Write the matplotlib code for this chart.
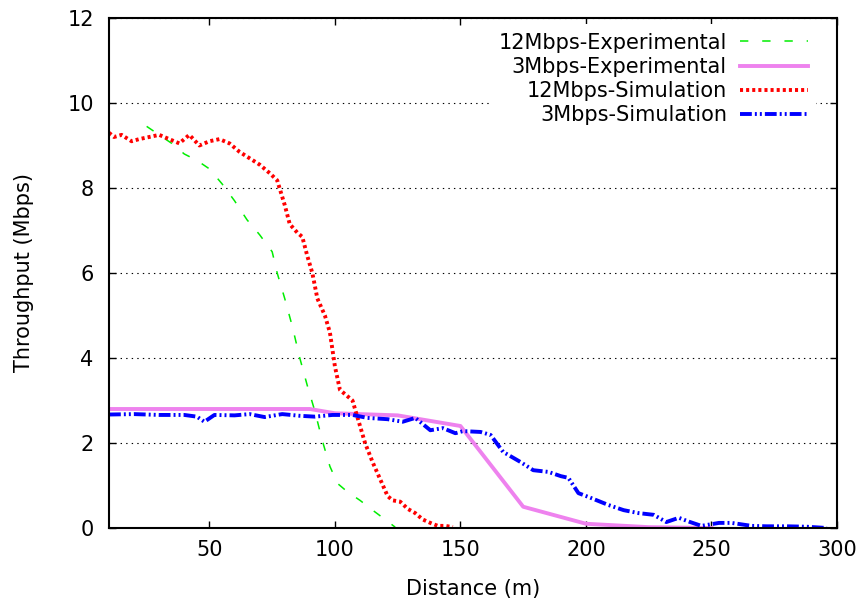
import matplotlib
matplotlib.use('Agg')
import matplotlib.pyplot as plt

plt.rcParams['font.family'] = ['DejaVu Sans']
plt.rcParams['lines.scale_dashes'] = False

# ── data ──────────────────────────────────────────────
exp12_x = [25, 30, 35, 40, 45, 50, 55, 60, 65, 70, 75, 77, 80, 83, 86, 89, 92, 95, 98, 101,
           105, 110, 115, 120, 124]
exp12_y = [9.45, 9.25, 9.05, 8.8, 8.65, 8.45, 8.1, 7.7, 7.25, 6.9, 6.5, 6.0, 5.4, 4.75, 4.0,
           3.35, 2.75, 2.05, 1.45, 1.05, 0.85, 0.65, 0.42, 0.2, 0.02]

exp3_x = [10, 90, 100, 125, 150, 175, 200, 225, 250]
exp3_y = [2.8, 2.8, 2.7, 2.65, 2.4, 0.5, 0.1, 0.02, 0.0]

sim12_x = [10, 12, 15, 19, 22, 26, 30, 34, 38, 42, 46, 50, 54, 58, 62, 66, 70, 74, 77, 80,
           82, 85, 87, 89, 91, 93, 96, 98, 100, 102, 104, 107, 109, 112, 115, 118, 121, 123,
           126, 129, 132, 135, 138, 141, 144, 147]
sim12_y = [9.3, 9.2, 9.25, 9.1, 9.15, 9.2, 9.25, 9.15, 9.05, 9.25, 9.0, 9.1, 9.15, 9.05, 8.85,
           8.7, 8.55, 8.35, 8.18, 7.6, 7.15, 6.95, 6.85, 6.4, 6.0, 5.4, 5.0, 4.6, 3.8, 3.25,
           3.15, 3.0, 2.6, 2.0, 1.55, 1.15, 0.75, 0.65, 0.62, 0.45, 0.35, 0.2, 0.12, 0.05,
           0.05, 0.02]

sim3_x = [10, 20, 30, 40, 45, 48, 52, 60, 66, 72, 79, 86, 92, 99, 107, 113, 121, 127, 132,
          138, 143, 148, 151, 158, 162, 167, 174, 179, 185, 190, 193, 197, 201, 209, 215, 221,
          227, 232, 237, 241, 246, 253, 258, 266, 272, 280, 288, 296]
sim3_y = [2.67, 2.68, 2.66, 2.66, 2.62, 2.5, 2.66, 2.65, 2.68, 2.61, 2.68, 2.64, 2.62, 2.66,
          2.66, 2.59, 2.56, 2.5, 2.59, 2.3, 2.35, 2.23, 2.28, 2.26, 2.19, 1.79, 1.55, 1.36,
          1.32, 1.22, 1.18, 0.82, 0.73, 0.54, 0.42, 0.35, 0.31, 0.14, 0.24, 0.15, 0.05, 0.12,
          0.12, 0.05, 0.04, 0.04, 0.03, 0.0]

x_ticks = [50, 100, 150, 200, 250, 300]
y_ticks = [0, 2, 4, 6, 8, 10, 12]

FS = 15

# ── figure ────────────────────────────────────────────
fig = plt.figure(figsize=(8.62, 6.01), dpi=100)
ax = fig.add_axes([109 / 862, 1 - 528 / 601, 728 / 862, 510 / 601])

ax.plot(exp12_x, exp12_y, color='#00ee00', lw=1.1, ls=(0, (6, 10)), label='12Mbps-Experimental')
ax.plot(exp3_x, exp3_y, color='#ee82ee', lw=2.8, label='3Mbps-Experimental')
ax.plot(sim12_x, sim12_y, color='#ff0000', lw=2.8, ls=(0, (2.2, 2.2)), label='12Mbps-Simulation')
ax.plot(sim3_x, sim3_y, color='#0000ff', lw=2.8, ls=(0, (8.5, 2.2, 1.4, 2.2, 1.4, 2.2)),
        label='3Mbps-Simulation')

ax.set_xlim(10, 300)
ax.set_ylim(0, 12)
ax.set_xticks(x_ticks)
ax.set_yticks(y_ticks)
ax.yaxis.grid(True, color='black', lw=0.8, ls=(0, (1, 3)))
ax.set_axisbelow(True)
ax.tick_params(direction='in', length=5, width=1, labelsize=FS, top=True, right=True)
ax.tick_params(axis='y', pad=11)
ax.tick_params(axis='x', pad=9)
for s in ax.spines.values():
    s.set_linewidth(1.5)

ax.set_xlabel('Distance (m)', fontsize=FS, labelpad=13)
ax.set_ylabel('Throughput (Mbps)', fontsize=FS, labelpad=24)

leg = ax.legend(loc='upper right', bbox_to_anchor=(0.9716, 0.9876), borderaxespad=0,
                fontsize=FS, markerfirst=False, handlelength=3.27, handletextpad=0.62,
                labelspacing=0.2, borderpad=0.4, frameon=True, fancybox=False)
leg.get_frame().set_edgecolor('none')
leg.get_frame().set_facecolor('white')
leg.get_frame().set_alpha(1)
for t in leg.get_texts():
    t.set_ha('right')

fig.savefig('out.png', dpi=100)
